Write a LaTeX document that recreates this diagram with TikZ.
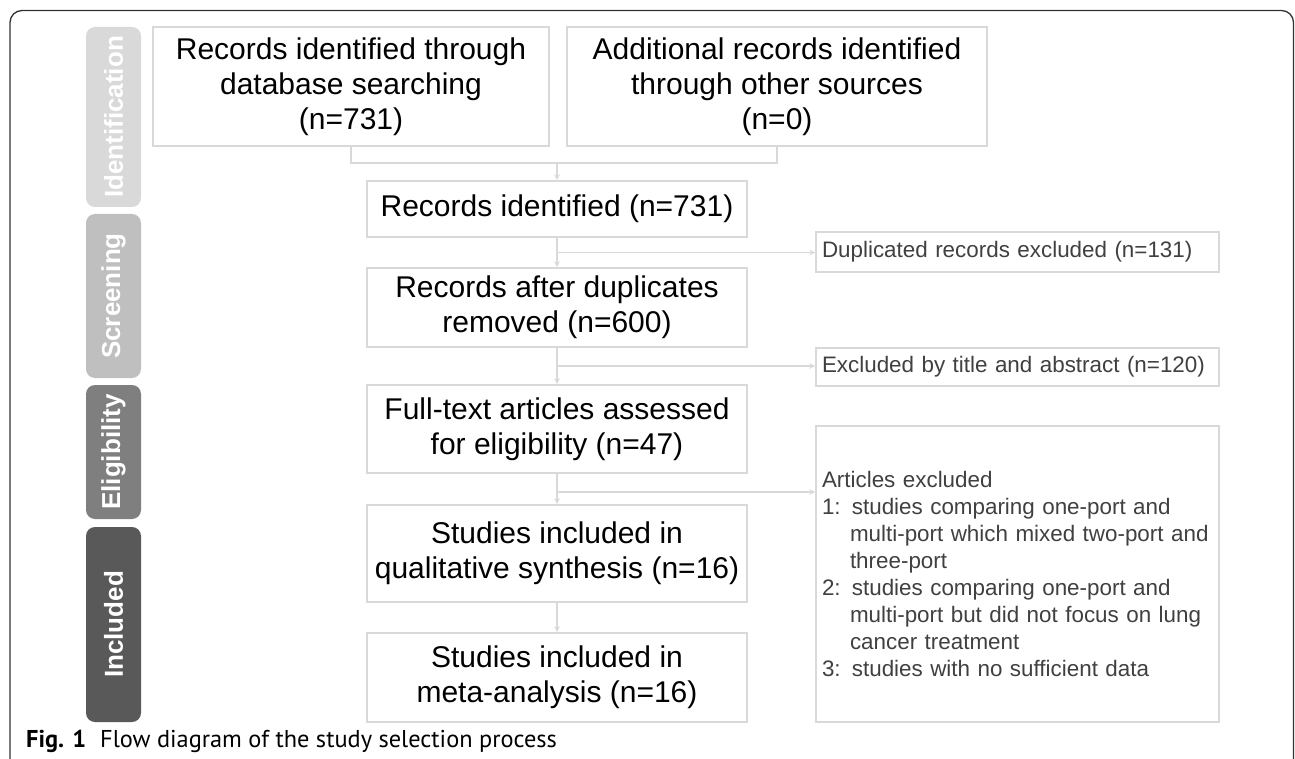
\documentclass[tikz,border=0pt]{standalone}
\usepackage{xcolor}
\usepackage{fontspec}
\setmainfont{Liberation Sans}
\newfontfamily\capfont{PT Sans}
\usetikzlibrary{shapes,arrows,positioning,calc}

\definecolor{boxline}{HTML}{D9D9D9}
\definecolor{sidetext}{HTML}{404040}
\definecolor{phaseid}{HTML}{D9D9D9}
\definecolor{phasescr}{HTML}{BFBFBF}
\definecolor{phaseelig}{HTML}{7F7F7F}
\definecolor{phaseinc}{HTML}{595959}
\definecolor{framecol}{HTML}{333333}

\begin{document}
\begin{tikzpicture}[x=1pt,y=-1pt,
    block/.style={rectangle,draw=boxline,line width=2pt,fill=white,inner sep=0pt,
                  minimum width=380pt,align=center,font=\fontsize{30}{35}\selectfont},
    side/.style={rectangle,draw=boxline,line width=2pt,fill=white,inner xsep=6pt,inner ysep=0pt,
                 text width=391pt,align=left,text=sidetext,font=\fontsize{22.4}{27}\selectfont},
    phase/.style={rectangle,rounded corners=9pt,rotate=90,minimum height=55pt,inner sep=0pt,
                  text=white,font=\fontsize{26}{30}\selectfont\bfseries},
    line/.style={draw=boxline,line width=1.5pt},
    arrow/.style={line,->,>=stealth}]
\useasboundingbox (0,0) rectangle (1295,759);
\fill[white] (0,0) rectangle (1295,759);

% outer figure frame
\draw[framecol,line width=1.3pt,rounded corners=12pt] (10,775) -- (10,10.5) -- (1293.5,10.5) -- (1293.5,775);

% phase bars
\node[phase,fill=phaseid,minimum width=180pt] (ident) at (113.5,117) {Identification};
\node[phase,fill=phasescr,minimum width=164pt] (screen) at (113.5,296) {Screening};
\node[phase,fill=phaseelig,minimum width=134pt] (elig) at (113.5,452) {Eligibility};
\node[phase,fill=phaseinc,minimum width=195pt] (incl) at (113.5,624.5) {Included};

% main column
\node[block,minimum width=396pt,minimum height=119pt] (dbsearch) at (351,86.5)
    {Records identified through\\database searching\\(n=731)};
\node[block,minimum width=420pt,minimum height=119pt] (othersrc) at (777,86.5)
    {Additional records identified\\through other sources\\(n=0)};
\node[block,minimum height=56pt] (recid) at (557,209) {Records identified (n=731)};
\node[block,minimum height=79pt] (dedup) at (557,307.5) {Records after duplicates\\removed (n=600)};
\node[block,minimum height=88pt] (fulltext) at (557,429) {Full-text articles assessed\\for eligibility (n=47)};
\node[block,minimum height=97pt] (qual) at (557,553.5) {Studies included in\\qualitative synthesis (n=16)};
\node[block,minimum height=89pt] (meta) at (557,677.5) {Studies included in\\meta-analysis (n=16)};

% exclusion boxes
\node[side,minimum height=40pt] (dupex) at (1017.5,252) {Duplicated records excluded (n=131)};
\node[side,minimum height=38pt] (titleex) at (1017.5,367) {Excluded by title and abstract (n=120)};
\node[side,minimum height=296pt] (artex) at (1017.5,574)
    {Articles excluded\\
     1: studies comparing one-port and\\
     \hspace*{28pt}\mbox{multi-port which mixed two-port and}\\
     \hspace*{28pt}three-port\\
     2: studies comparing one-port and\\
     \hspace*{28pt}multi-port but did not focus on lung\\
     \hspace*{28pt}cancer treatment\\
     3: studies with no sufficient data};

% connectors
\coordinate (merge) at (recid.north |- 0,163);
\draw[line] (dbsearch.south) -- (dbsearch.south |- merge) -- (othersrc.south |- merge) -- (othersrc.south);
\draw[arrow] (merge) -- (recid.north);
\coordinate (br1) at ($(recid.south)!0.5!(dedup.north)$);
\coordinate (br2) at ($(dedup.south)!0.5!(fulltext.north)$);
\coordinate (br3) at ($(fulltext.south)!0.6!(qual.north)$);
\draw[arrow] (recid) -- (dedup);
\draw[arrow] (dedup) -- (fulltext);
\draw[arrow] (fulltext) -- (qual);
\draw[arrow] (qual) -- (meta);
\draw[arrow] (br1) -- (br1 -| dupex.west);
\draw[arrow] (br2) -- (br2 -| titleex.west);
\draw[arrow] (br3) -- (br3 -| artex.west);

% caption
\node[anchor=base west,inner sep=0pt,scale=1.16,transform shape] (caption) at (26,747)
    {\capfont\fontsize{21}{24}\selectfont\textbf{Fig. 1}\hspace{12pt}Flow diagram of the study selection process};
\end{tikzpicture}
\end{document}
